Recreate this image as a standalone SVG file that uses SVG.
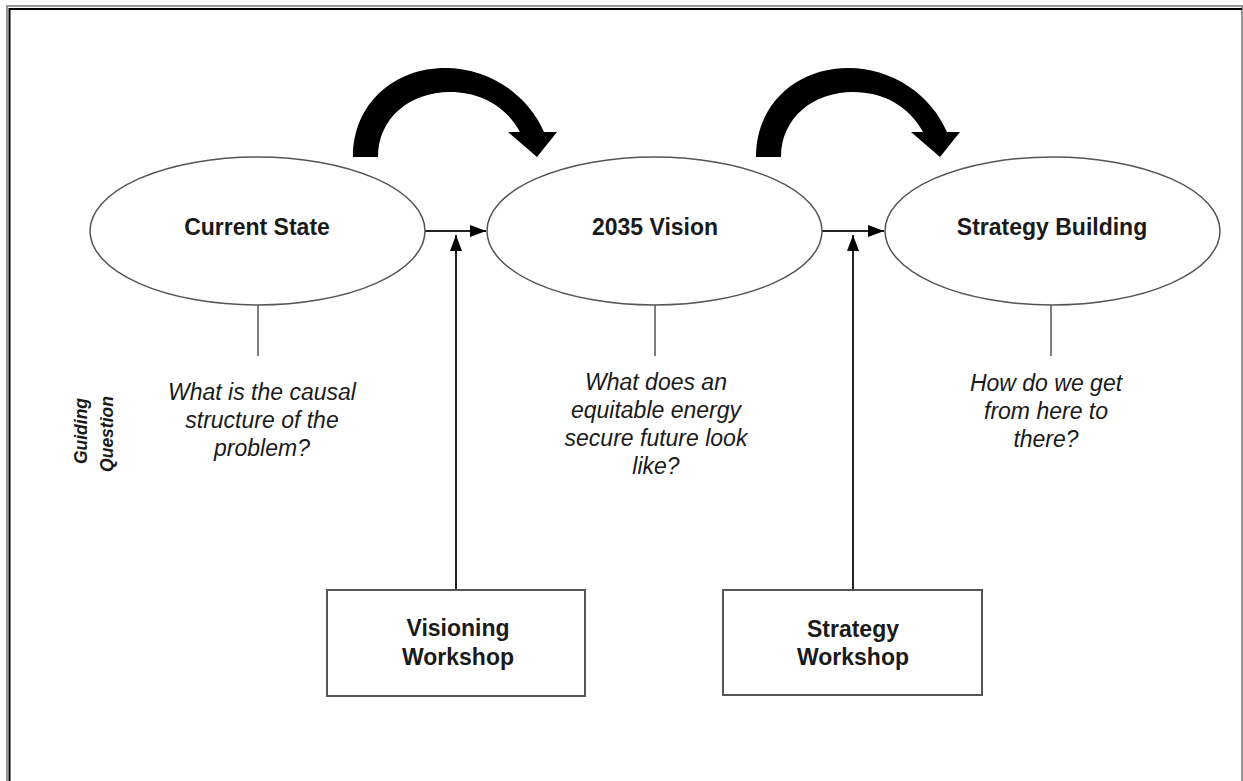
<svg xmlns="http://www.w3.org/2000/svg" width="1243" height="781" viewBox="0 0 1243 781">
<defs>
<style>
.ell{fill:#fff;stroke:#555;stroke-width:1.5}
.box{fill:#fff;stroke:#555;stroke-width:2}
.ln{stroke:#222;stroke-width:2;fill:none}
.stem{stroke:#555;stroke-width:1.5}
.t{font-family:"Liberation Sans",Arial,sans-serif;font-size:23px;font-weight:bold;fill:#1a1a1a;text-anchor:middle}
.q{font-family:"Liberation Sans",Arial,sans-serif;font-size:23px;font-style:italic;fill:#1a1a1a;text-anchor:middle}
.g{font-family:"Liberation Sans",Arial,sans-serif;font-size:17.5px;font-style:italic;font-weight:bold;fill:#1a1a1a;text-anchor:middle}
.big{fill:#000}
</style>
<marker id="ah2" viewBox="0 0 10 10" refX="10" refY="5" markerWidth="16" markerHeight="12" markerUnits="userSpaceOnUse" orient="auto" preserveAspectRatio="none">
<path d="M0,0 L10,5 L0,10 Z" fill="#000"/>
</marker>
<path id="curl" d="M353,157 C353,103 395,68 445,68 C490,68 528,95 544,132 L557,132 L537,157 L508,132 L520,132 C506,106 480,92 450,92 C410,92 378,118 378,157 Z"/>
</defs>
<rect width="1243" height="781" fill="#fff"/>
<g id="frame" fill="none">
<path d="M7,781 V6 H1242 V781" stroke="#777" stroke-width="1.5"/>
<path d="M9.5,781 V9 H1242" stroke="#000" stroke-width="2"/>
</g>
<g id="connectors">
<use href="#curl" class="big"/>
<use href="#curl" class="big" transform="translate(403,0)"/>
<line class="ln" x1="425" y1="231" x2="486" y2="231" marker-end="url(#ah2)"/>
<line class="ln" x1="822" y1="231" x2="884" y2="231" marker-end="url(#ah2)"/>
<line class="ln" x1="456" y1="590" x2="456" y2="235" marker-end="url(#ah2)"/>
<line class="ln" x1="853" y1="590" x2="853" y2="235" marker-end="url(#ah2)"/>
<line class="stem" x1="258" y1="305" x2="258" y2="356"/>
<line class="stem" x1="655" y1="305" x2="655" y2="356"/>
<line class="stem" x1="1051" y1="305" x2="1051" y2="356"/>
</g>
<g id="current-state">
<ellipse class="ell" cx="257.5" cy="231" rx="167.5" ry="74"/>
<text class="t" x="257" y="235">Current State</text>
</g>
<g id="vision-2035">
<ellipse class="ell" cx="654.5" cy="231" rx="167.5" ry="74"/>
<text class="t" x="655" y="235">2035 Vision</text>
</g>
<g id="strategy-building">
<ellipse class="ell" cx="1052.5" cy="231" rx="167.5" ry="74"/>
<text class="t" x="1052" y="235">Strategy Building</text>
</g>
<g id="q-current">
<text class="q" x="262" y="400">What is the causal</text>
<text class="q" x="262" y="428">structure of the</text>
<text class="q" x="262" y="456">problem?</text>
</g>
<g id="q-vision">
<text class="q" x="656" y="390">What does an</text>
<text class="q" x="656" y="418">equitable energy</text>
<text class="q" x="656" y="446">secure future look</text>
<text class="q" x="656" y="474">like?</text>
</g>
<g id="q-strategy">
<text class="q" x="1046" y="391">How do we get</text>
<text class="q" x="1046" y="419">from here to</text>
<text class="q" x="1046" y="447">there?</text>
</g>
<g id="guiding-question">
<text class="g" transform="translate(87,431) rotate(-90)" x="0" y="0">Guiding</text>
<text class="g" transform="translate(113,434) rotate(-90)" x="0" y="0">Question</text>
</g>
<g id="visioning-workshop">
<rect class="box" x="327" y="590" width="258" height="106"/>
<text class="t" x="458" y="636">Visioning</text>
<text class="t" x="458" y="665">Workshop</text>
</g>
<g id="strategy-workshop">
<rect class="box" x="723" y="590" width="259" height="105"/>
<text class="t" x="853" y="637">Strategy</text>
<text class="t" x="853" y="665">Workshop</text>
</g>
</svg>
